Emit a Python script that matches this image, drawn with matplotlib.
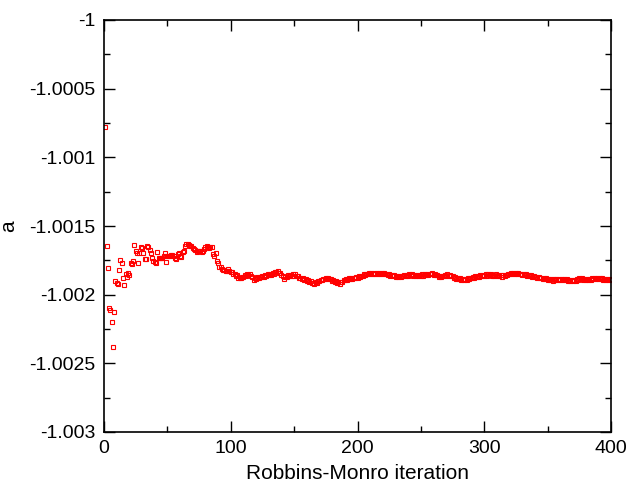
import numpy as np
import matplotlib
matplotlib.use("Agg")
import matplotlib.pyplot as plt
from matplotlib.ticker import MultipleLocator

# Offsets below -1, in units of 1e-6: a = -1 - d*1e-6, iterations 1..400
d_vals = [
    777, 1643, 1803, 2100, 2110, 2196, 2378, 2124, 1900, 1915,
    1925, 1822, 1747, 1770, 1876, 1927, 1850, 1873, 1840, 1860,
    1770, 1780, 1757, 1640, 1680, 1700, 1770, 1700, 1655, 1658,
    1700, 1740, 1740, 1645, 1650, 1677, 1700, 1730, 1755, 1760,
    1770, 1687, 1733, 1733, 1730, 1730, 1720, 1700, 1760, 1720,
    1720, 1715, 1710, 1708, 1720, 1730, 1740, 1705, 1700, 1720,
    1725, 1690, 1680, 1645, 1630, 1632, 1640, 1645, 1648, 1660,
    1665, 1675, 1690, 1685, 1680, 1685, 1688, 1682, 1670, 1655,
    1648, 1650, 1662, 1650, 1655, 1706, 1715, 1700, 1755, 1770,
    1795, 1800, 1815, 1820, 1822, 1828, 1825, 1815, 1830, 1838,
    1836, 1848, 1846, 1862, 1860, 1879, 1876, 1882, 1868, 1870,
    1860, 1864, 1851, 1854, 1846, 1864, 1871, 1892, 1881, 1884,
    1874, 1879, 1869, 1874, 1864, 1869, 1856, 1861, 1851, 1857,
    1848, 1854, 1844, 1846, 1832, 1836, 1831, 1844, 1840, 1859,
    1866, 1884, 1871, 1872, 1860, 1866, 1856, 1862, 1853, 1861,
    1853, 1866, 1866, 1882, 1876, 1886, 1881, 1892, 1886, 1897,
    1894, 1907, 1904, 1917, 1913, 1919, 1908, 1912, 1901, 1904,
    1891, 1894, 1884, 1889, 1878, 1884, 1876, 1889, 1888, 1902,
    1896, 1908, 1904, 1916, 1911, 1921, 1908, 1909, 1894, 1896,
    1884, 1890, 1880, 1886, 1877, 1884, 1876, 1882, 1871, 1876,
    1866, 1872, 1861, 1864, 1852, 1856, 1846, 1852, 1842, 1849,
    1840, 1848, 1839, 1847, 1840, 1848, 1841, 1848, 1840, 1849,
    1843, 1853, 1847, 1857, 1851, 1861, 1855, 1865, 1859, 1870,
    1864, 1874, 1866, 1872, 1861, 1866, 1856, 1864, 1856, 1862,
    1853, 1860, 1852, 1862, 1856, 1866, 1856, 1864, 1854, 1861,
    1853, 1861, 1851, 1857, 1848, 1854, 1846, 1852, 1844, 1854,
    1848, 1860, 1858, 1872, 1866, 1872, 1862, 1867, 1856, 1862,
    1853, 1861, 1854, 1866, 1863, 1876, 1873, 1886, 1881, 1889,
    1882, 1891, 1884, 1892, 1884, 1892, 1882, 1888, 1876, 1881,
    1870, 1876, 1866, 1874, 1864, 1870, 1860, 1866, 1856, 1862,
    1853, 1861, 1852, 1860, 1853, 1862, 1854, 1861, 1852, 1861,
    1854, 1864, 1858, 1868, 1860, 1866, 1854, 1858, 1846, 1851,
    1841, 1848, 1840, 1849, 1842, 1851, 1844, 1853, 1846, 1854,
    1846, 1856, 1851, 1862, 1856, 1866, 1860, 1870, 1864, 1874,
    1868, 1878, 1872, 1882, 1875, 1884, 1876, 1886, 1880, 1890,
    1884, 1894, 1888, 1897, 1889, 1896, 1887, 1894, 1885, 1892,
    1884, 1892, 1885, 1894, 1888, 1898, 1892, 1902, 1896, 1902,
    1892, 1897, 1886, 1892, 1881, 1889, 1882, 1891, 1884, 1892,
    1884, 1892, 1884, 1891, 1882, 1889, 1880, 1887, 1879, 1887,
    1879, 1888, 1881, 1890, 1883, 1892, 1884, 1892, 1884, 1892,
]
iterations = np.arange(1, len(d_vals) + 1)
a_vals = -1.0 - np.array(d_vals) * 1e-6

x_ticks = [0, 100, 200, 300, 400]
y_ticks = [-1.003, -1.0025, -1.002, -1.0015, -1.001, -1.0005, -1.0]
y_tick_labels = ["-1.003", "-1.0025", "-1.002", "-1.0015", "-1.001", "-1.0005", "-1"]

plt.rcParams['font.family'] = ['Liberation Sans', 'DejaVu Sans']
fig = plt.figure(figsize=(6.28, 4.84), dpi=100)
ax = fig.add_axes([104/628, 1 - 432/484, (611-104)/628, (432-20)/484])

ax.plot(iterations, a_vals, linestyle='none', marker='s', markersize=3.2,
        markerfacecolor='none', markeredgecolor='#ff0000', markeredgewidth=0.8)

ax.set_xlim(0, 400)
ax.set_ylim(-1.003, -1.0)
ax.set_xticks(x_ticks)
ax.set_yticks(y_ticks)
ax.set_yticklabels(y_tick_labels)
ax.xaxis.set_minor_locator(MultipleLocator(50))
ax.yaxis.set_minor_locator(MultipleLocator(0.00025))
ax.tick_params(which='both', direction='in', top=True, right=True, width=1.0)
ax.tick_params(which='major', length=8, labelsize=14, pad=6)
ax.tick_params(which='minor', length=4)
for s in ax.spines.values():
    s.set_linewidth(1.2)

ax.set_xlabel("Robbins-Monro iteration", fontsize=15, labelpad=5)
ax.set_ylabel("a", fontsize=15, labelpad=8)

fig.savefig("out.png", dpi=100)
